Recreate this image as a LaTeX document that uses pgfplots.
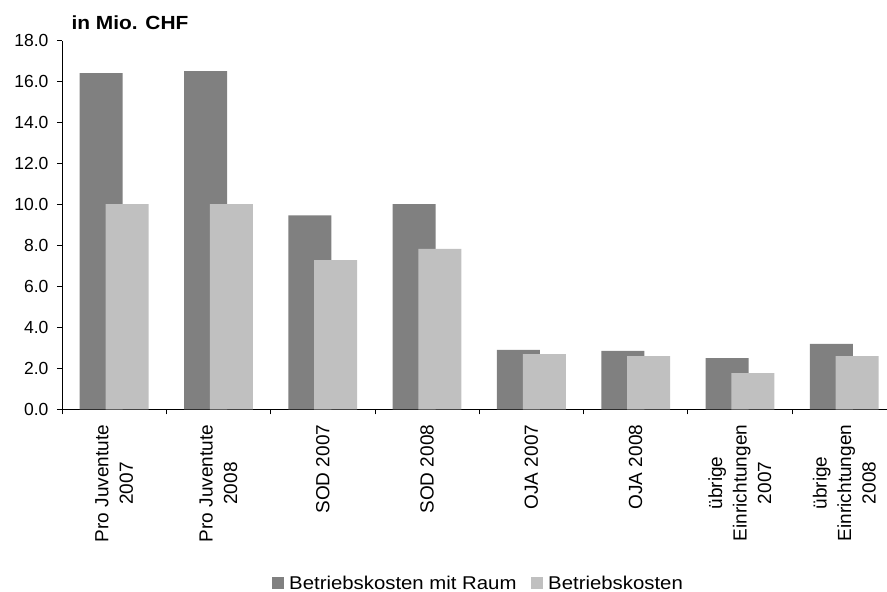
\documentclass[border=0pt]{standalone}
\usepackage{fontspec}
\setmainfont{Liberation Sans}
\newfontfamily\widefont[FakeStretch=1.1]{Liberation Sans}
\usepackage{pgfplots}
\pgfplotsset{compat=1.18}

\definecolor{raum}{HTML}{808080}
\definecolor{betrieb}{HTML}{C0C0C0}

\begin{document}
\begin{tikzpicture}
% fixed page frame around the axis
\path[use as bounding box] (-62pt,-182.7pt) rectangle (825pt,409.3pt);
\begin{axis}[
  at={(0pt,0pt)}, anchor=south west,
  scale only axis, width=834.4pt, height=368.6pt,
  xmin=-0.5, xmax=7.5, ymin=0, ymax=18,
  axis x line*=bottom, axis y line*=left,
  axis line style={-, black, line width=0.8pt},
  tick align=outside, major tick length=5pt,
  tick style={black, line width=0.8pt},
  ytick={0,2,...,18},
  yticklabel shift=5pt,
  yticklabel style={/pgf/number format/fixed, /pgf/number format/fixed zerofill,
    /pgf/number format/precision=1, /pgf/number format/assume math mode=true,
    font=\fontsize{17.5}{20}\selectfont},
  xtick={-0.5,0.5,...,7.5},
  x tick label as interval,
  xticklabel shift=7pt,
  xticklabels={{Pro Juventute\\2007},{Pro Juventute\\2008},{SOD 2007},{SOD 2008},{OJA 2007},{OJA 2008},{übrige\\Einrichtungen\\2007},{übrige\\Einrichtungen\\2008}},
  xticklabel style={rotate=90, anchor=east, align=center, font=\fontsize{19}{24.5}\selectfont},
  ybar, bar width=43pt,
  legend columns=-1,
  legend image code/.code={\draw[#1, draw=none] (0pt,-6pt) rectangle (12pt,6pt);},
  legend style={draw=none, fill=none, at={(rel axis cs:0.498,-0.472)}, anchor=center,
    font=\widefont\fontsize{18.5}{22}\selectfont,
    nodes={inner xsep=0pt, inner ysep=1pt},
    /tikz/every odd column/.append style={column sep=5pt},
    /tikz/every even column/.append style={column sep=14.7pt}},
]
\addplot[fill=raum, draw=none, bar shift=-12.9pt] coordinates {
  (0,16.42) (1,16.52) (2,9.47) (3,10.02) (4,2.90) (5,2.85) (6,2.50) (7,3.19)};
\addplot[fill=betrieb, draw=none, bar shift=12.9pt] coordinates {
  (0,10.02) (1,10.02) (2,7.29) (3,7.83) (4,2.70) (5,2.60) (6,1.77) (7,2.60)};
\legend{Betriebskosten mit Raum, Betriebskosten}
\end{axis}
\node[anchor=base west, font=\widefont\bfseries\fontsize{19}{22}\selectfont] at (6pt,379.3pt) {in Mio. CHF};
\end{tikzpicture}
\end{document}
